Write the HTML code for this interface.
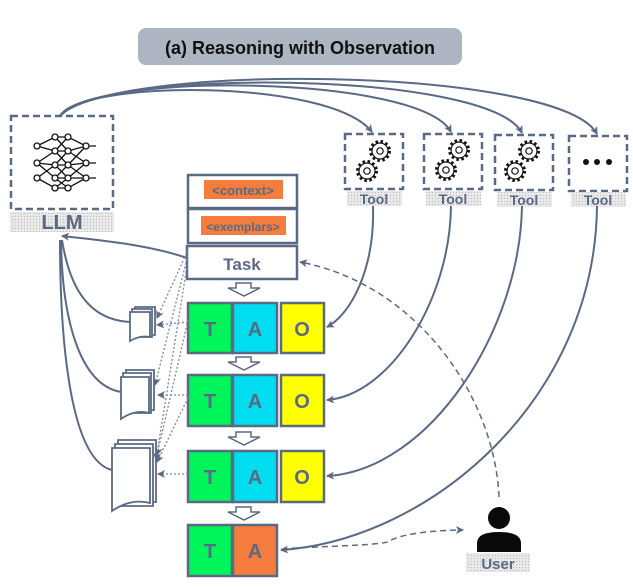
<!DOCTYPE html>
<html><head><meta charset="utf-8"><style>
body{margin:0;background:#fff;}
svg{display:block;font-family:"Liberation Sans",sans-serif;}
</style></head><body>
<svg width="633" height="588" viewBox="0 0 633 588" xmlns="http://www.w3.org/2000/svg">
<defs>
<marker id="ar" markerWidth="8" markerHeight="8" refX="7" refY="4" orient="auto" markerUnits="userSpaceOnUse"><path d="M0,0 L8,4 L0,8 L2,4 Z" fill="#5a6a85"/></marker>
<pattern id="dots" width="3" height="3" patternUnits="userSpaceOnUse"><rect width="3" height="3" fill="#e8e8e8"/><rect width="1" height="1" fill="#bbb"/></pattern>
<g id="gear"><circle r="9.5" fill="none" stroke="#111" stroke-width="3" stroke-dasharray="2.5,2.5"/><circle r="8" fill="#fff" stroke="#111" stroke-width="1.2"/><circle r="3.2" fill="none" stroke="#111" stroke-width="1.2"/></g>
</defs>
<!-- title -->
<rect x="138" y="28" width="324" height="37" rx="8" fill="#adb5c3"/>
<text x="300" y="54" text-anchor="middle" font-size="18" font-weight="bold" fill="#111">(a) Reasoning with Observation</text>

<!-- LLM -->
<rect x="11" y="116" width="102" height="93" fill="#fff" stroke="#5a6a85" stroke-width="2.5" stroke-dasharray="7,4"/>
<rect x="10" y="212" width="104" height="20" fill="url(#dots)"/>
<text x="62" y="229" text-anchor="middle" font-size="20" font-weight="bold" fill="#5a6a85">LLM</text>
<g stroke="#111" stroke-width="1.3" fill="none">
<path d="M37,146 L55,137 L68,137 L86,146 M37,146 L55,151 L68,151 L86,146 M37,163 L55,151 M37,163 L55,165 L68,165 L86,163 M37,163 L55,178 L68,178 L86,163 M37,178 L55,165 M37,178 L55,188 L68,188 L86,178 M55,137 L68,151 M55,151 L68,137 M55,151 L68,165 M55,165 L68,151 M55,165 L68,178 M55,178 L68,165 M55,178 L68,188 M55,188 L68,178 M68,151 L86,163 M68,165 L86,146 M68,165 L86,178 M68,178 L86,178 M86,146 L96,146 M86,163 L96,163 M86,178 L96,178"/>
</g>
<g fill="#fff" stroke="#111" stroke-width="1.3">
<circle cx="37" cy="146" r="3"/><circle cx="37" cy="163" r="3"/><circle cx="37" cy="178" r="3"/>
<circle cx="55" cy="137" r="3"/><circle cx="55" cy="151" r="3"/><circle cx="55" cy="165" r="3"/><circle cx="55" cy="178" r="3"/><circle cx="55" cy="188" r="3"/>
<circle cx="68" cy="137" r="3"/><circle cx="68" cy="151" r="3"/><circle cx="68" cy="165" r="3"/><circle cx="68" cy="178" r="3"/><circle cx="68" cy="188" r="3"/>
<circle cx="86" cy="146" r="3"/><circle cx="86" cy="163" r="3"/><circle cx="86" cy="178" r="3"/>
</g>

<!-- tools -->
<g stroke="#5a6a85" stroke-width="2.5" stroke-dasharray="7,4" fill="#fff">
<rect x="345" y="134" width="58" height="55"/><rect x="424" y="134" width="58" height="55"/><rect x="495" y="135" width="58" height="55"/><rect x="569" y="136" width="58" height="55"/>
</g>
<g fill="url(#dots)"><rect x="347" y="191" width="55" height="15"/><rect x="426" y="191" width="55" height="15"/><rect x="497" y="192" width="55" height="15"/><rect x="571" y="192" width="55" height="15"/></g>
<g font-size="14" font-weight="bold" fill="#5a6a85" text-anchor="middle">
<text x="374" y="204">Tool</text><text x="453" y="204">Tool</text><text x="524" y="205">Tool</text><text x="598" y="205">Tool</text></g>
<use href="#gear" x="380" y="151"/><use href="#gear" x="367" y="171"/>
<use href="#gear" x="459" y="150"/><use href="#gear" x="446" y="170"/>
<use href="#gear" x="529" y="151"/><use href="#gear" x="515" y="171"/>
<g fill="#111"><circle cx="586" cy="162" r="3"/><circle cx="597" cy="162" r="3"/><circle cx="609" cy="162" r="3"/></g>

<!-- LLM to tools arcs -->
<g fill="none" stroke="#5a6a85" stroke-width="2" marker-end="url(#ar)">
<path d="M60,116 C80,80 330,78 372,132"/>
<path d="M60,116 C90,72 420,74 451,132"/>
<path d="M60,116 C100,68 490,70 522,133"/>
<path d="M60,116 C110,62 560,66 597,134"/>
</g>

<!-- context stack -->
<g fill="#fff" stroke="#5a6a85" stroke-width="2.5">
<rect x="188" y="175" width="109" height="33"/><rect x="188" y="209" width="109" height="34"/><rect x="187" y="246" width="110" height="33"/>
</g>
<rect x="204" y="180" width="79" height="19" fill="#f47c3c"/>
<rect x="201" y="216" width="85" height="19" fill="#f47c3c"/>
<text x="243" y="195" text-anchor="middle" font-size="13" font-weight="bold" fill="#5a6a85">&lt;context&gt;</text>
<text x="243" y="231" text-anchor="middle" font-size="12" font-weight="bold" fill="#5a6a85">&lt;exemplars&gt;</text>
<text x="242" y="270" text-anchor="middle" font-size="17" font-weight="bold" fill="#5a6a85">Task</text>

<!-- down arrows -->
<g fill="#fff" stroke="#5a6a85" stroke-width="1.5">
<path d="M236,283 h15 v5 h9 l-16,8 l-16,-8 h8z"/>
<path d="M236,357 h15 v5 h9 l-16,8 l-16,-8 h8z"/>
<path d="M236,432 h15 v5 h9 l-16,8 l-16,-8 h8z"/>
<path d="M236,507 h15 v5 h9 l-16,8 l-16,-8 h8z"/>
</g>

<!-- TAO rows -->
<g stroke="#5a6a85" stroke-width="2.5">
<rect x="188" y="303" width="44" height="50" fill="#00f55a"/><rect x="233" y="303" width="44" height="50" fill="#00dcf0"/><rect x="281" y="303" width="43" height="50" fill="#ffff00"/>
<rect x="188" y="375" width="44" height="51" fill="#00f55a"/><rect x="233" y="375" width="44" height="51" fill="#00dcf0"/><rect x="281" y="375" width="43" height="51" fill="#ffff00"/>
<rect x="188" y="451" width="44" height="51" fill="#00f55a"/><rect x="233" y="451" width="44" height="51" fill="#00dcf0"/><rect x="281" y="451" width="43" height="51" fill="#ffff00"/>
<rect x="188" y="525" width="44" height="51" fill="#00f55a"/><rect x="233" y="525" width="44" height="51" fill="#f47c3c"/>
</g>
<g font-size="20" font-weight="bold" fill="#5a6a85" text-anchor="middle">
<text x="210" y="336">T</text><text x="255" y="336">A</text><text x="302" y="336">O</text>
<text x="210" y="408">T</text><text x="255" y="408">A</text><text x="302" y="408">O</text>
<text x="210" y="484">T</text><text x="255" y="484">A</text><text x="302" y="484">O</text>
<text x="210" y="558">T</text><text x="255" y="558">A</text>
</g>

<!-- documents -->
<g fill="#fff" stroke="#5a6a85" stroke-width="1.8">
<path d="M135,307 h20 v28 h-20z"/><path d="M132,309 h20 v28 h-20z"/><path d="M130,312 h20 v25 q-10,-2 -20,4z"/>
<path d="M126,370 h28 v40 h-28z"/><path d="M123,373 h28 v40 h-28z"/><path d="M121,377 h28 v36 q-14,-4 -28,6z"/>
<path d="M118,440 h38 v62 h-38z"/><path d="M115,444 h38 v62 h-38z"/><path d="M112,448 h38 v55 q-19,-5 -38,8z"/>
</g>

<!-- doc to LLM -->
<g fill="none" stroke="#5a6a85" stroke-width="2">
<path d="M130,322 C90,320 70,290 62,240"/>
<path d="M121,392 C80,385 62,320 61,240"/>
<path d="M112,470 C70,460 60,340 60,240"/>
<path d="M187,258 C150,245 100,240 62,236" marker-end="url(#ar)"/>
</g>

<!-- dotted links -->
<g fill="none" stroke="#7a86a0" stroke-width="1.3" stroke-dasharray="2,2" marker-end="url(#ar)">
<path d="M188,250 L157,318"/><path d="M188,255 L155,385"/><path d="M188,260 L156,460"/>
<path d="M188,322 L157,325"/><path d="M188,395 L158,395"/><path d="M188,474 L158,474"/>
<path d="M188,320 L157,455"/><path d="M188,398 L157,462"/>
</g>

<!-- tool to O -->
<g fill="none" stroke="#5a6a85" stroke-width="2" marker-end="url(#ar)">
<path d="M373,206 C375,270 350,315 327,327"/>
<path d="M451,206 C450,300 390,395 327,400"/>
<path d="M522,206 C520,330 430,470 327,476"/>
<path d="M597,206 C595,400 430,540 281,550"/>
</g>

<!-- user dashed -->
<g fill="none" stroke="#5a6a85" stroke-width="1.5" stroke-dasharray="6,4" marker-end="url(#ar)">
<path d="M499,497 C495,400 420,285 300,262"/>
<path d="M282,549 C320,546 370,546 388,542 C400,533 440,530 463,530"/>
</g>

<!-- user -->
<circle cx="499" cy="518" r="11" fill="#0a0a0a"/>
<path d="M477,552 v-9 q0,-11 22,-11 q22,0 22,11 v9z" fill="#0a0a0a"/>
<rect x="466" y="553" width="64" height="19" fill="url(#dots)"/>
<text x="498" y="569" text-anchor="middle" font-size="15" font-weight="bold" fill="#5a6a85">User</text>
</svg>
</body></html>
